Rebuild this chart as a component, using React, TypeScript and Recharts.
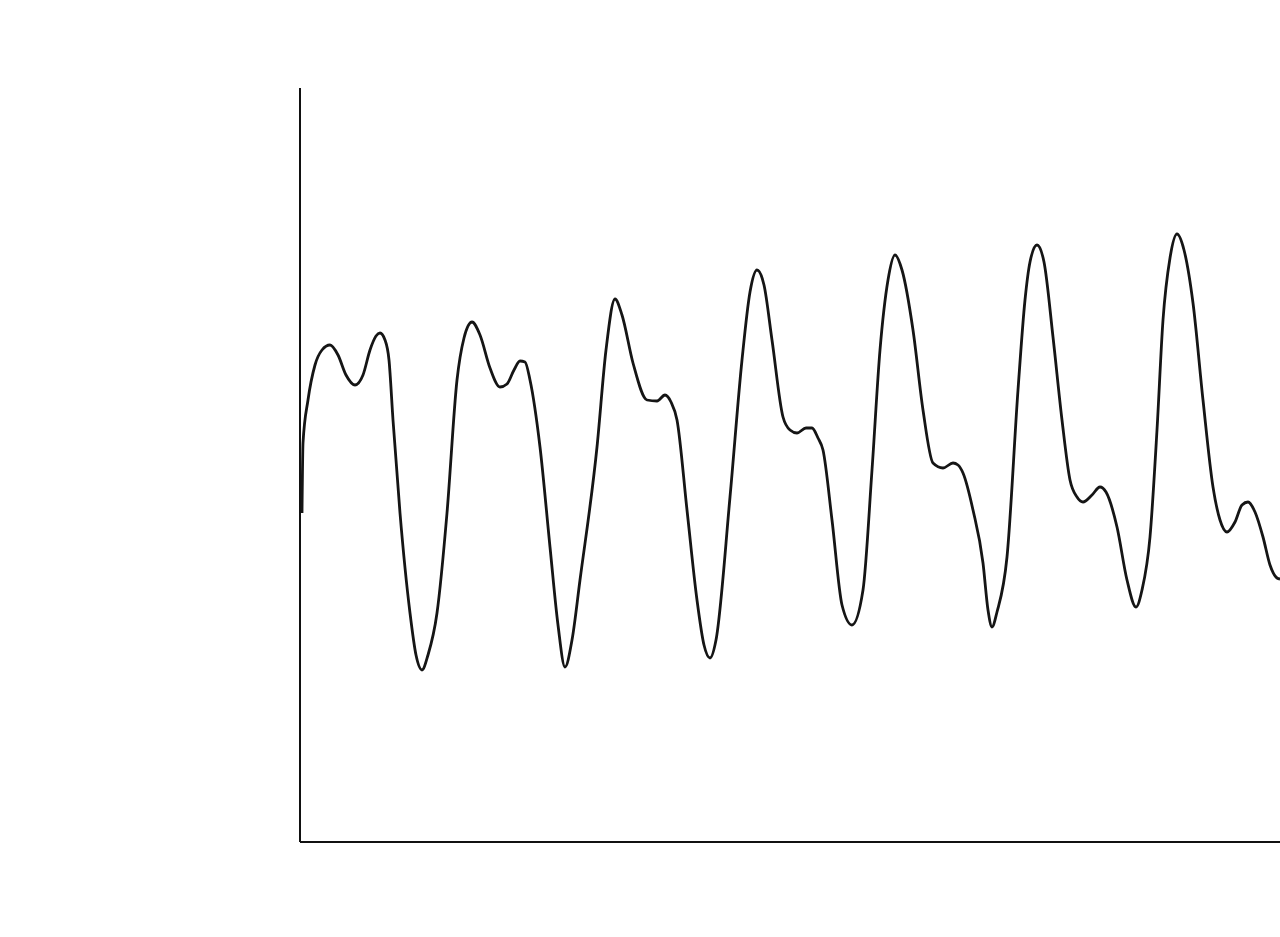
import React from 'react';
import { LineChart, Line, XAxis, YAxis } from 'recharts';

// time positions (px along the strip, from the y axis)
const time = [
  2, 3, 8, 15, 22, 30, 38, 46, 55, 63, 70, 76, 80, 85, 89, 93, 100, 110, 116, 122,
  128, 137, 147, 157, 164, 172, 180, 190, 200, 207, 214, 220, 225, 230, 240, 250, 258, 265, 272, 280,
  297, 306, 315, 322, 333, 347, 357, 365, 371, 377, 387, 397, 404, 410, 416, 430, 442, 450, 457, 464,
  472, 483, 490, 497, 506, 512, 518, 523, 532, 542, 552, 563, 572, 580, 588, 595, 602, 613, 623, 633,
  643, 653, 658, 663, 673, 683, 688, 692, 697, 707, 718, 725, 730, 737, 744, 753, 762, 770, 777,
  783, 792, 800, 806, 817, 827, 836, 842, 850, 857, 863, 870, 877, 884, 893, 903, 913, 920, 927, 935,
  942, 948, 955, 963, 970, 977, 980,
];

// trace amplitude
const amplitude = [
  329, 399, 442, 477, 492, 497, 487, 467, 457, 467, 492, 506, 509, 502, 482, 422, 329, 229, 187, 172,
  187, 229, 329, 462, 504, 520, 507, 474, 455, 458, 472, 481, 480, 462, 395, 295, 217, 175, 202, 262,
  395, 492, 543, 527, 479, 442, 441, 447, 440, 422, 332, 242, 197, 184, 202, 345, 482, 550, 572, 557,
  502, 425, 412, 409, 414, 414, 404, 392, 322, 237, 217, 252, 372, 492, 562, 587, 572, 512, 432, 379,
  374, 379, 377, 369, 332, 279, 232, 215, 230, 285, 452, 542, 580, 597, 580, 505, 422, 362, 345,
  340, 347, 355, 350, 315, 262, 235, 252, 305, 412, 522, 584, 608, 592, 539, 442, 355, 322, 310, 320,
  337, 340, 330, 305, 277, 264, 263,
];

const data = time.map((t, i) => ({ t, v: amplitude[i] }));

export default function App() {
  return (
    <div style={{ position: 'absolute', left: 0, top: 0, width: 1280, height: 937, background: '#fff' }}>
      <LineChart width={1280} height={937} data={data} margin={{ top: 88, right: 0, left: 290, bottom: 85 }}>
        <XAxis
          dataKey="t"
          type="number"
          domain={[0, 980]}
          height={10}
          tick={false}
          tickLine={false}
          axisLine={{ stroke: '#111', strokeWidth: 2 }}
        />
        <YAxis
          type="number"
          domain={[0, 754]}
          width={10}
          tick={false}
          tickLine={false}
          axisLine={{ stroke: '#111', strokeWidth: 2 }}
        />
        <Line
          type="monotone"
          dataKey="v"
          stroke="#151515"
          strokeWidth={2.8}
          dot={false}
          isAnimationActive={false}
        />
      </LineChart>
    </div>
  );
}
